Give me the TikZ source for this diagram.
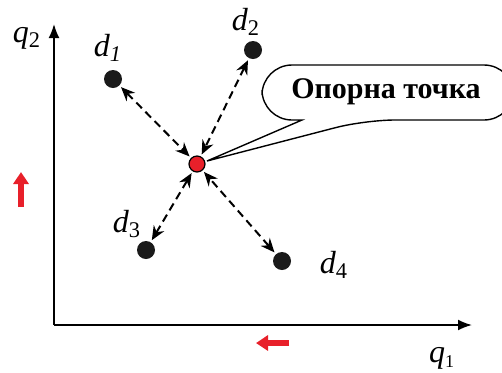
\documentclass[tikz,border=0pt]{standalone}
\usepackage{fontspec}
\setmainfont{Liberation Serif}
\usepackage{xcolor}
\usetikzlibrary{arrows.meta}
\definecolor{refred}{HTML}{E8202A}
\definecolor{dotblack}{HTML}{1A1A1A}

\tikzset{
  datadot/.style={circle,fill=dotblack,inner sep=0pt,minimum size=9pt},
  refdot/.style={circle,fill=refred,draw=black,line width=0.6pt,inner sep=0pt,minimum size=8pt},
  distarrow/.style={{Stealth[length=7pt,width=6pt]}-{Stealth[length=7pt,width=6pt]},
    line width=1pt,dash pattern=on 4pt off 2.5pt,shorten >=1pt,shorten <=1pt},
  axisarrow/.style={-{Latex[length=7pt,width=5.5pt]},line width=0.9pt},
  movearrow/.style={-{Triangle[length=6pt,width=7.5pt]},refred,line width=3pt},
  lbl/.style={inner sep=0pt,font=\fontsize{16}{18}\selectfont\itshape}
}

\begin{document}
\begin{tikzpicture}[x=0.5pt,y=0.5pt]
  \clip (0,0) rectangle (502,372);
  % axes
  \coordinate (orig) at (54,47);
  \coordinate (q2tip) at (54,348);
  \coordinate (q1tip) at (472,47);
  \draw[axisarrow] (orig) -- (q2tip);
  \draw[axisarrow] (orig) -- (q1tip);
  \node[lbl] (q2lbl) at (27,334) {q\textsubscript{\upshape 2}};
  \node[lbl] (q1lbl) at (442,14) {q\textsubscript{\upshape\fontsize{9}{10}\selectfont 1}};

  % red direction arrows
  \coordinate (upfrom) at (21,165);
  \coordinate (upto) at (21,200);
  \coordinate (leftfrom) at (289,29);
  \coordinate (leftto) at (256,29);
  \draw[movearrow] (upfrom) -- (upto);
  \draw[movearrow] (leftfrom) -- (leftto);

  % callout
  \draw[line width=0.7pt,fill=white,rounded corners=15]
    (302,252) -| (262,307) -| (514,252) -- (365,252)
    [sharp corners] -- (207,211) -- cycle;
  \node[inner sep=0pt,font=\fontsize{15}{17}\selectfont\bfseries] (calltxt) at (386,280) {Опорна точка};

  % points
  \node[datadot] (d1) at (113,293) {};
  \node[datadot] (d2) at (253,322) {};
  \node[datadot] (d3) at (146,122) {};
  \node[datadot] (d4) at (282,111) {};
  \node[refdot] (ref) at (197,208) {};
  \node[lbl] (d1lbl) at (108,324) {d\textsubscript{1}};
  \node[lbl] (d2lbl) at (246,350) {d\textsubscript{\upshape 2}};
  \node[lbl] (d3lbl) at (127,148) {d\textsubscript{\upshape 3}};
  \node[lbl] (d4lbl) at (334,107) {d\textsubscript{\upshape 4}};

  \draw[distarrow] (d1) -- (ref);
  \draw[distarrow] (d2) -- (ref);
  \draw[distarrow] (d3) -- (ref);
  \draw[distarrow] (d4) -- (ref);
\end{tikzpicture}
\end{document}
